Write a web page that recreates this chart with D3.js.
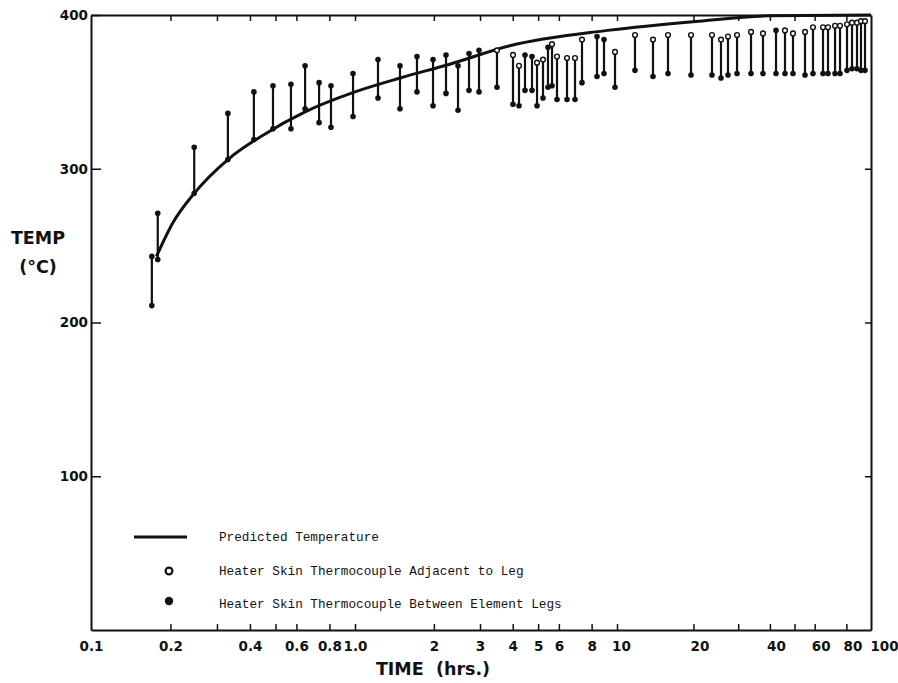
<!DOCTYPE html>
<html>
<head>
<meta charset="utf-8">
<script src="https://cdn.jsdelivr.net/npm/d3@7"></script>
<style>
  body { margin: 0; background: #fff; }
  .tick text { font-family: "DejaVu Sans", sans-serif; font-weight: bold; font-size: 13.5px; fill: #111; }
  .legend { font-family: "Liberation Mono", monospace; font-size: 12.7px; fill: #111; }
  .title { font-family: "DejaVu Sans", sans-serif; font-weight: bold; font-size: 17.5px; fill: #111; }
</style>
</head>
<body>
<div id="graf"></div>
<script>
// measured pairs, time in hours
var times = [0.170, 0.179, 0.246, 0.330, 0.414, 0.489, 0.572, 0.647, 0.731, 0.811,
             0.983, 1.224, 1.485, 1.724, 1.985, 2.225, 2.473, 2.724, 2.974, 3.483,
             4.009, 4.226, 4.455, 4.738, 4.951, 5.219, 5.453, 5.649, 5.902, 6.445,
             6.914, 7.352, 8.388, 8.920, 9.826, 11.77, 13.86, 15.88, 19.56, 23.66,
             25.67, 27.35, 29.69, 33.70, 37.56, 42.27, 45.85, 49.30, 54.98, 59.10,
             64.72, 67.72, 72.18, 75.51, 80.45, 84.19, 88.08, 91.33, 94.71]
var tempHigh = [243, 271, 314, 336, 350, 354, 355, 367, 356, 354,
                362, 371, 367, 373, 371, 374, 367, 375, 377, 377,
                374, 367, 374, 373, 369, 371, 379, 381, 373, 372,
                372, 384, 386, 384, 376, 387, 384, 387, 387, 387,
                384, 386, 387, 389, 388, 390, 390, 388, 389, 392,
                392, 392, 393, 393, 394, 395, 395, 396, 396]
var tempLow = [211, 241, 284, 306, 319, 326, 326, 339, 330, 327,
               334, 346, 339, 350, 341, 349, 338, 351, 350, 353,
               342, 341, 351, 351, 341, 346, 353, 354, 345, 345,
               345, 356, 360, 362, 353, 364, 360, 362, 361, 361,
               359, 361, 362, 362, 362, 362, 362, 362, 361, 362,
               362, 362, 362, 362, 364, 365, 365, 364, 364]
// 1 = open circle on top (adjacent to leg), 0 = filled
var topOpen = [0, 0, 0, 0, 0, 0, 0, 0, 0, 0,
               0, 0, 0, 0, 0, 0, 0, 0, 0, 1,
               1, 1, 0, 0, 1, 1, 0, 1, 1, 1,
               1, 1, 0, 0, 1, 1, 1, 1, 1, 1,
               1, 1, 1, 1, 1, 0, 1, 1, 1, 1,
               1, 1, 1, 1, 1, 1, 1, 1, 1]

// predicted temperature curve
var predTimes = [0.177, 0.2045, 0.246, 0.33, 0.45, 0.647, 1.0, 1.485, 2.3, 3.9, 9.2, 21, 40, 100]
var predTemps = [243, 265, 284, 306, 322, 337, 350, 359, 368, 380, 390, 396, 399.5, 400]

var xTicks = [0.2, 0.3, 0.4, 0.5, 0.6, 0.8, 1, 2, 3, 4, 5, 6, 8, 10, 20, 30, 40, 50, 60, 80]
var xLabelValues = [0.1, 0.2, 0.4, 0.6, 0.8, 1, 2, 3, 4, 5, 6, 8, 10, 20, 40, 60, 80, 100]
var xLabelText = ["0.1", "0.2", "0.4", "0.6", "0.8", "1.0", "2", "3", "4", "5", "6", "8", "10", "20", "40", "60", "80", "100"]
var yTicks = [100, 200, 300, 400]

var legendItems = ["Predicted Temperature",
                   "Heater Skin Thermocouple Adjacent to Leg",
                   "Heater Skin Thermocouple Between Element Legs"]

var svg = d3.select('#graf')
            .append('svg')
            .attr('width', 898)
            .attr('height', 683)
            .style('background', '#fff')

// log paper from the scan is not perfectly even, so map each decade
var x = d3.scaleLog()
          .domain([0.1, 1, 10, 100])
          .range([91, 355, 617, 871])
var y = d3.scaleLinear()
          .domain([0, 400])
          .range([630, 15])

var labelMap = {}
xLabelValues.forEach((v, i) => labelMap[v] = xLabelText[i])

// bottom axis, ticks point inward
var gb = svg.append("g")
  .attr("transform", "translate(0,630)")
  .call(d3.axisBottom(x).tickValues(xTicks.concat([0.1, 100]))
        .tickSizeInner(-6).tickSizeOuter(0).tickPadding(11)
        .tickFormat(d => labelMap[d] || ""))
gb.selectAll(".tick line").filter(d => d == 0.1 || d == 100).remove()
// labels on the right of the scan sit a bit right of their ticks
gb.selectAll(".tick text").attr("dx", d => d >= 100 ? 13 : d >= 20 ? 6 : d >= 10 ? 4 : 0)

svg.append("g")
  .attr("transform", "translate(0,15)")
  .call(d3.axisTop(x).tickValues(xTicks).tickSizeInner(-6).tickSizeOuter(0).tickFormat(""))

svg.append("g")
  .attr("transform", "translate(91,0)")
  .call(d3.axisLeft(y).tickValues(yTicks).tickSizeInner(-10).tickSizeOuter(0).tickPadding(3))

svg.append("g")
  .attr("transform", "translate(871,0)")
  .call(d3.axisRight(y).tickValues([100, 200, 300]).tickSizeInner(-6).tickSizeOuter(0).tickFormat(""))

svg.selectAll(".domain").attr("stroke", "#111").attr("stroke-width", 2)
svg.selectAll(".tick line").attr("stroke", "#111").attr("stroke-width", 1.5)

// predicted curve
var line = d3.line()
  .x((d, i) => x(predTimes[i]))
  .y(d => y(d))
  .curve(d3.curveMonotoneX)

svg.append("path")
  .attr("d", line(predTemps))
  .attr("fill", "none")
  .attr("stroke", "#111")
  .attr("stroke-width", 3)

// measured ranges
var bars = svg.append("g")
bars.selectAll("line")
  .data(times)
  .join("line")
  .attr("x1", d => x(d))
  .attr("x2", d => x(d))
  .attr("y1", (d, i) => y(tempHigh[i]))
  .attr("y2", (d, i) => y(tempLow[i]))
  .attr("stroke", "#111")
  .attr("stroke-width", 2.2)

bars.selectAll("circle.low")
  .data(times)
  .join("circle")
  .attr("class", "low")
  .attr("cx", d => x(d))
  .attr("cy", (d, i) => y(tempLow[i]))
  .attr("r", 2.8)
  .attr("fill", "#111")

bars.selectAll("circle.high")
  .data(times)
  .join("circle")
  .attr("class", "high")
  .attr("cx", d => x(d))
  .attr("cy", (d, i) => y(tempHigh[i]))
  .attr("r", (d, i) => topOpen[i] ? 2.4 : 2.8)
  .attr("fill", (d, i) => topOpen[i] ? "#fff" : "#111")
  .attr("stroke", "#111")
  .attr("stroke-width", (d, i) => topOpen[i] ? 1.4 : 0)

// legend
svg.append("line")
  .attr("x1", 134).attr("x2", 187)
  .attr("y1", 537).attr("y2", 537)
  .attr("stroke", "#111").attr("stroke-width", 3)
svg.append("circle")
  .attr("cx", 169).attr("cy", 571).attr("r", 3.4)
  .attr("fill", "#fff").attr("stroke", "#111").attr("stroke-width", 2.2)
svg.append("circle")
  .attr("cx", 169).attr("cy", 601).attr("r", 4.2)
  .attr("fill", "#111")

svg.selectAll("text.legend")
  .data(legendItems)
  .join("text")
  .attr("class", "legend")
  .attr("x", 219)
  .attr("y", (d, i) => 541 + i * 33.5)
  .text(d => d)

// axis titles
svg.append("text").attr("class", "title")
  .attr("x", 38).attr("y", 244).attr("text-anchor", "middle")
  .text("TEMP")
svg.append("text").attr("class", "title")
  .attr("x", 38).attr("y", 273).attr("text-anchor", "middle")
  .text("(°C)")
svg.append("text").attr("class", "title")
  .attr("x", 433).attr("y", 675).attr("text-anchor", "middle")
  .attr("xml:space", "preserve")
  .text("TIME  (hrs.)")
</script>
</body>
</html>
